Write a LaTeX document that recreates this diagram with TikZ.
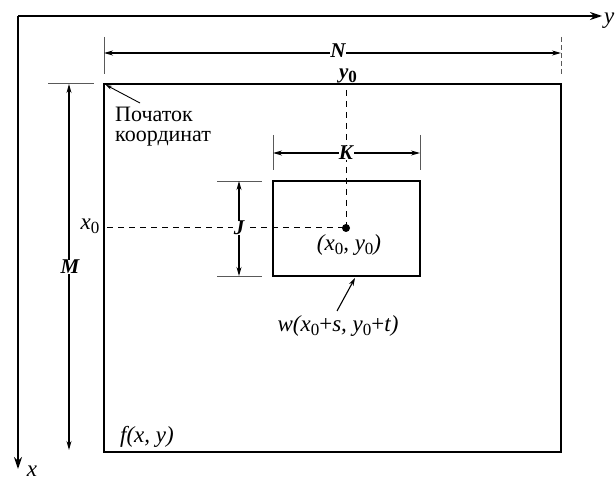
\documentclass[tikz,border=0pt]{standalone}
\usepackage{fontspec}
\setmainfont{Liberation Serif}
\usetikzlibrary{arrows.meta}
\newcommand{\zsub}{\raisebox{-4pt}{\fontsize{17}{17}\selectfont\upshape 0}}
\begin{document}
\begin{tikzpicture}[x=1pt,y=-1pt,
  frame/.style={line width=1.6pt},
  axis/.style={line width=1.3pt,-{Stealth[length=12pt,width=8pt]}},
  dim/.style={line width=1.1pt,{Stealth[length=9pt,width=5pt]}-{Stealth[length=9pt,width=5pt]}},
  pointer/.style={line width=1.1pt,-{Stealth[length=8pt,width=5pt]}},
  tickline/.style={line width=0.7pt,black!65},
  guide/.style={line width=1pt,dash pattern=on 6pt off 5pt},
  blab/.style={font=\fontsize{21}{23}\selectfont\bfseries\itshape,inner sep=0.5pt,fill=white},
  ilab/.style={font=\fontsize{23}{25}\selectfont\itshape,inner sep=0pt},
  txt/.style={font=\fontsize{22}{20}\selectfont,align=left,inner sep=0pt}
]
\useasboundingbox (0,0) rectangle (616,481);
\fill[white] (0,0) rectangle (616,481);

% axes
\coordinate (O) at (18,16);
\coordinate (Yend) at (602,16);
\coordinate (Xend) at (18,469);
\draw[axis] (O) -- (Yend);
\draw[axis] (O) -- (Xend);
\node[ilab,anchor=west] (ylab) at (604,21) {y};
\node[ilab] (xlab) at (32,471) {x};

% image frame
\coordinate (F1) at (104,84);
\coordinate (F2) at (561,452);
\draw[frame] (F1) rectangle (F2);

% guide lines
\coordinate (C) at (346,228);
\coordinate (Gx) at (107,228);
\coordinate (Gy) at (346,90);
\draw[guide] (Gx) -- (C);
\draw[guide] (Gy) -- (C);

% N dimension
\coordinate (N1a) at (104,37); \coordinate (N1b) at (104,74);
\coordinate (N2a) at (561,37); \coordinate (N2b) at (561,74);
\coordinate (N1) at (104,53); \coordinate (N2) at (561,53);
\draw[tickline] (N1a) -- (N1b);
\draw[tickline,dash pattern=on 5pt off 3pt] (N2a) -- (N2b);
\draw[dim] (N1) -- (N2);
\node[blab,inner sep=0pt] (Nlab) at (338,51) {N};
\node[blab,fill=none,inner sep=0pt] (y0lab) at (348,76) {y\zsub};

% M dimension
\coordinate (Mt1) at (48,83); \coordinate (Mt2) at (94,83);
\coordinate (M1) at (69,84); \coordinate (M2) at (69,450);
\draw[tickline] (Mt1) -- (Mt2);
\draw[dim] (M1) -- (M2);
\node[blab] (Mlab) at (70,267) {M};
\node[ilab] (x0lab) at (90,226) {x\zsub};

% window
\coordinate (W1) at (273,181);
\coordinate (W2) at (420,276);
\draw[frame] (W1) rectangle (W2);

% K dimension
\coordinate (K1a) at (273,135); \coordinate (K1b) at (273,170);
\coordinate (K2a) at (420,135); \coordinate (K2b) at (420,170);
\coordinate (K1) at (273,153); \coordinate (K2) at (420,153);
\draw[tickline] (K1a) -- (K1b);
\draw[tickline] (K2a) -- (K2b);
\draw[dim] (K1) -- (K2);
\node[blab] (Klab) at (346,153) {K};

% J dimension
\coordinate (J1a) at (217,181); \coordinate (J1b) at (262,181);
\coordinate (J2a) at (217,276); \coordinate (J2b) at (262,276);
\coordinate (J1) at (239,181); \coordinate (J2) at (239,276);
\draw[tickline] (J1a) -- (J1b);
\draw[tickline] (J2a) -- (J2b);
\draw[dim] (J1) -- (J2);
\node[blab] (Jlab) at (239,228) {J};

% centre point
\node[circle,fill=black,inner sep=0pt,minimum size=8pt] (dot) at (C) {};
\node[ilab] (cxy) at (349,245) {(x\zsub, y\zsub)};

% window label
\node[ilab] (wlab) at (338,326) {w(x\zsub{\upshape +}s, y\zsub{\upshape +}t)};
\coordinate (wstart) at (337,311);
\coordinate (wtip) at (355,278);
\draw[pointer] (wstart) -- (wtip);

% origin label
\node[txt,anchor=north west] (orig) at (115,107) {Початок\\координат};
\coordinate (ostart) at (140,103);
\coordinate (otip) at (106,85);
\draw[line width=0.9pt,-{Stealth[length=6pt,width=4pt]}] (ostart) -- (otip);

% function label
\node[ilab] (flab) at (147,437) {f(x, y)};
\end{tikzpicture}
\end{document}
